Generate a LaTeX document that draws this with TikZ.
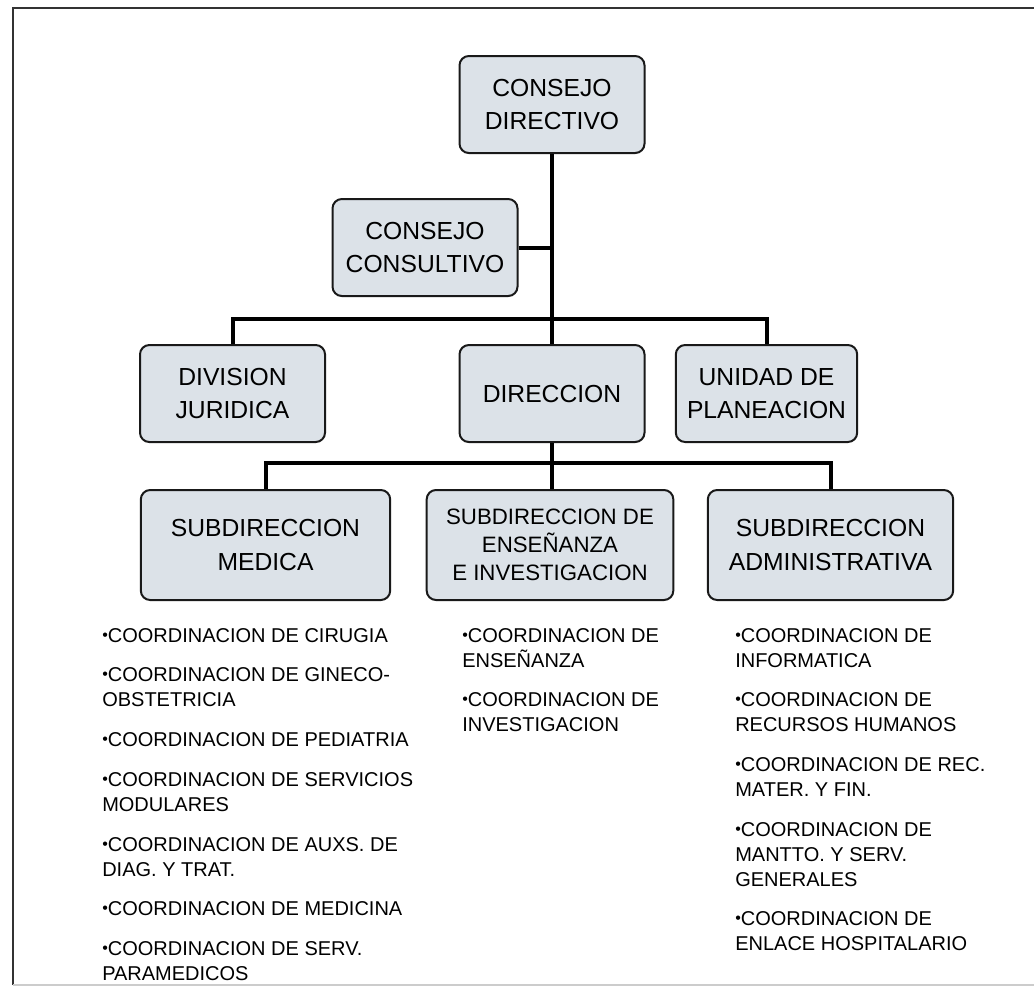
\documentclass[tikz,border=0pt]{standalone}
\usepackage{fontspec}
\setmainfont{Liberation Sans}
\usetikzlibrary{positioning}
\definecolor{boxfill}{HTML}{DCE2E8}
\newcommand{\itm}{\raisebox{0.1em}{\fontsize{12}{12}\selectfont•}}
\tikzset{
  unitbox/.style={draw=black!90, line width=1.5pt, fill=boxfill, rounded corners=7pt,
    align=center, inner sep=2pt, minimum width=138.75pt, minimum height=72.75pt,
    font=\fontsize{18.5}{25}\selectfont},
  subbox/.style={unitbox, minimum width=187pt, minimum height=82.5pt},
  link/.style={line width=3pt, black},
  coordtext/.style={align=left, inner sep=0pt, anchor=north west,
    font=\fontsize{15}{18.75}\selectfont},
  under/.style={coordtext, below=18.75pt of #1.south west, anchor=north west}
}
\begin{document}
\begin{tikzpicture}[x=0.75pt, y=-0.75pt]
      \useasboundingbox (0,0) rectangle (1034,990);
      \draw[black!80, line width=2pt] (13,985) -- (13,8) -- (1040,8);
      \draw[black!20, line width=1pt] (13,985) -- (1040,985);
      \draw
        (552,104.5) node[unitbox] (cdir){CONSEJO\\DIRECTIVO}
        (425,247.5) node[unitbox] (ccons){CONSEJO\\CONSULTIVO}
        (232.5,393.5) node[unitbox] (djur){DIVISION\\JURIDICA}
        (552,393.5) node[unitbox] (direc){DIRECCION}
        (766.5,393.5) node[unitbox, minimum width=136pt] (uplan){UNIDAD DE\\PLANEACION}
        (265.5,545) node[subbox] (smed){SUBDIRECCION\\MEDICA}
        (550,545) node[subbox, minimum width=185pt, font=\fontsize{16.7}{21}\selectfont] (sens){SUBDIRECCION DE\\ENSEÑANZA\\E INVESTIGACION}
        (830.5,545) node[subbox, minimum width=184pt] (sadm){SUBDIRECCION\\ADMINISTRATIVA};
      \coordinate (bar1) at (552,319);
      \coordinate (bar2) at (552,463);
      \begin{scope}[link]
        \draw (cdir) to (direc);
        \draw (ccons.east) to (ccons.east -| cdir.south);
        \draw (djur.north) |- (bar1) -| (uplan.north);
        \draw (smed.north) |- (bar2) -| (sadm.north);
        \draw (direc.south) to (direc.south |- sens.north);
      \end{scope}
      \node[coordtext] (m1) at (102,628) {\itm COORDINACION DE CIRUGIA};
      \node[under=m1] (m2) {\itm COORDINACION DE GINECO-\\OBSTETRICIA};
      \node[under=m2] (m3) {\itm COORDINACION DE PEDIATRIA};
      \node[under=m3] (m4) {\itm COORDINACION DE SERVICIOS\\MODULARES};
      \node[under=m4] (m5) {\itm COORDINACION DE AUXS. DE\\DIAG. Y TRAT.};
      \node[under=m5] (m6) {\itm COORDINACION DE MEDICINA};
      \node[under=m6] (m7) {\itm COORDINACION DE SERV.\\PARAMEDICOS};
      \node[coordtext] (e1) at (462,628) {\itm COORDINACION DE\\ENSEÑANZA};
      \node[under=e1] (e2) {\itm COORDINACION DE\\INVESTIGACION};
      \node[coordtext] (a1) at (735,628) {\itm COORDINACION DE\\INFORMATICA};
      \node[under=a1] (a2) {\itm COORDINACION DE\\RECURSOS HUMANOS};
      \node[under=a2] (a3) {\itm COORDINACION DE REC.\\MATER. Y FIN.};
      \node[under=a3] (a4) {\itm COORDINACION DE\\MANTTO. Y SERV.\\GENERALES};
      \node[under=a4] (a5) {\itm COORDINACION DE\\ENLACE HOSPITALARIO};
    \end{tikzpicture}
\end{document}
